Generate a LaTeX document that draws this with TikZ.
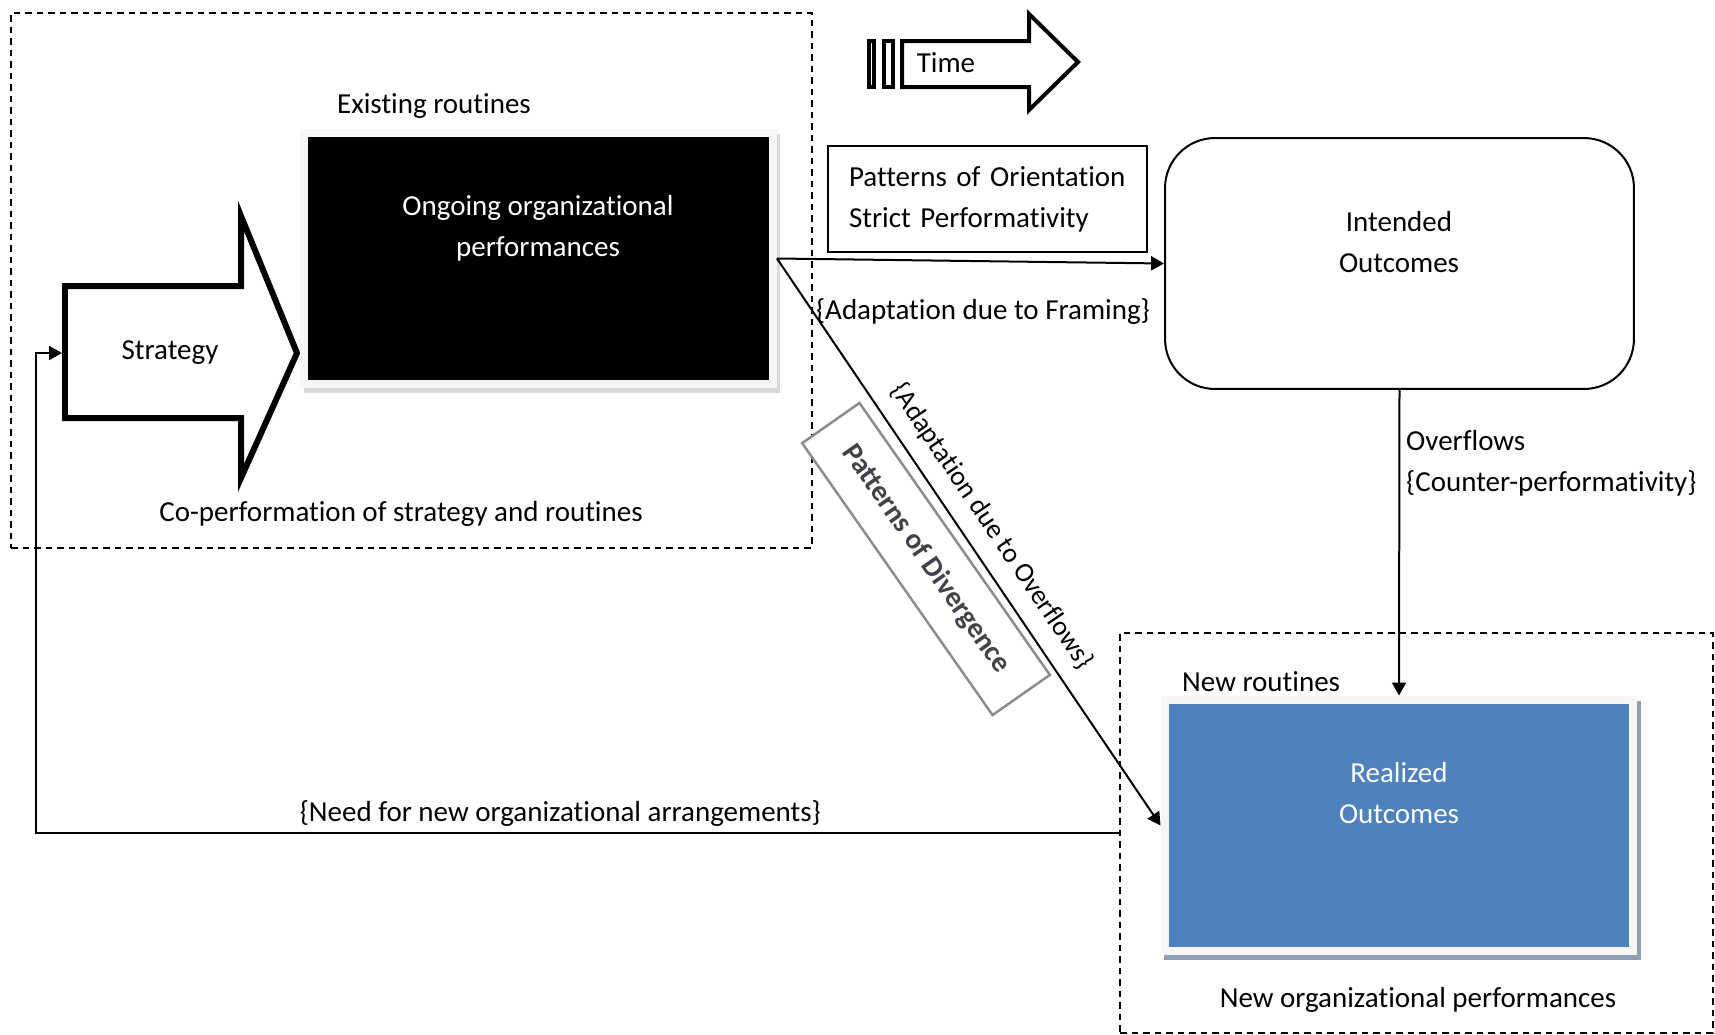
\documentclass[tikz,border=0pt]{standalone}
\usepackage{fontspec}
\setmainfont[Ligatures=NoCommon]{Carlito}
\usetikzlibrary{arrows.meta,positioning,shadows}

\definecolor{outblue}{RGB}{79,129,189}
\definecolor{outshade}{RGB}{143,158,180}
\definecolor{divgray}{RGB}{66,66,74}
\newcommand{\figfont}{\fontsize{16.5}{23.2}\selectfont}

\begin{document}
\begin{tikzpicture}[
  x=0.02cm, y=-0.02cm,
  font=\figfont, >={Triangle[length=0.26cm,width=0.28cm]},
  conn/.style={line width=0.04cm},
  region/.style={draw, line width=0.03cm, dash pattern=on 0.13cm off 0.1cm, inner sep=0pt},
  perf/.style={rectangle, draw=gray!7, line width=0.16cm, inner sep=0pt, minimum width=9.38cm, minimum height=5.04cm,
    copy shadow={shadow xshift=0.07cm, shadow yshift=-0.1cm, draw=#1, fill=#1}},
  boxtxt/.style={text=white, align=center},
  hollow/.style={draw, fill=white, line join=miter},
]
\useasboundingbox (0,0) rectangle (1715,1035);
% the two dashed regions
\node[region, minimum width=16.02cm, minimum height=10.7cm] (oldperf) at (411.5,280.5) {};
\node[region, minimum width=11.86cm, minimum height=8cm] (newperf) at (1416.5,833) {};
% time arrow with its two tail bars
\draw[hollow, line width=0.08cm] (902,41) -- (1029,41) -- (1029,14) -- (1078,62) -- (1029,110) -- (1029,87) -- (902,87) -- cycle;
\draw[line width=0.08cm] (869,41) rectangle (874,87) (884,41) rectangle (893,87);
\node (time) at (946,63) {Time};
% strategy arrow pushing into the routines
\draw[hollow, line width=0.12cm] (65,286) -- (241,286) -- (241,216) -- (297,353) -- (241,478) -- (241,418) -- (65,418) -- cycle;
\node (strategy) at (170,353) {Strategy};
\coordinate (stratin) at (62,353);
% existing routines
\node[perf=gray!30, fill=black] (ongoing) at (538.5,258.5) {};
\node[boxtxt] (ongoingtxt) at (538,228) {Ongoing organizational\\performances};
\node (existing) at (434,106) {Existing routines};
\node (coperf) at (401,514) {Co-performation of strategy and routines};
% intended outcomes
\node[draw, rounded corners=1cm, line width=0.04cm, minimum width=9.38cm, minimum height=5.02cm] (intended) at (1399.5,263.5) {};
\node[align=center] (intendedtxt) at (1399,242) {Intended\\Outcomes};
% realized outcomes
\node[perf=outshade, fill=outblue] (realized) at (1399,825.5) {};
\node[boxtxt] (realizedtxt) at (1399,793) {Realized\\Outcomes};
\node[anchor=west] (newroutines) at (1176,682) {New routines};
\node (newperftxt) at (1418,1000) {New organizational performances};
% orientation and divergence patterns
\node[draw, line width=0.03cm, align=left, text width=5.54cm, minimum height=2.12cm, inner xsep=0.42cm] (orient) at (987.5,199) {Patterns of Orientation\\Strict Performativity};
\node (framing) at (983,312) {\{Adaptation due to Framing\}};
\node[draw=gray!90, line width=0.05cm, fill=white, rotate=-55, minimum width=6.64cm, minimum height=1.4cm, text=divgray, font=\figfont\bfseries] (diverg) at (926,559) {Patterns of Divergence};
% connectors
\draw[->, conn] (ongoing.east) -- (intended.west);
\draw[->, conn] (ongoing.east) -- node[sloped, above=5pt, pos=0.5, font=\fontsize{15.6}{20}\selectfont] (overflowlbl) {\{Adaptation due to Overflows\}} (realized.west);
\draw[->, conn] (intended.south) -- node[right, pos=0.24, align=left] (overflows) {Overflows\\\{Counter-performativity\}} (realized.north);
\draw[->, conn] (newperf.west) -| node[above, pos=0.258] (needlbl) {\{Need for new organizational arrangements\}} ([xshift=-0.52cm]stratin) -- (stratin);
\end{tikzpicture}
\end{document}
